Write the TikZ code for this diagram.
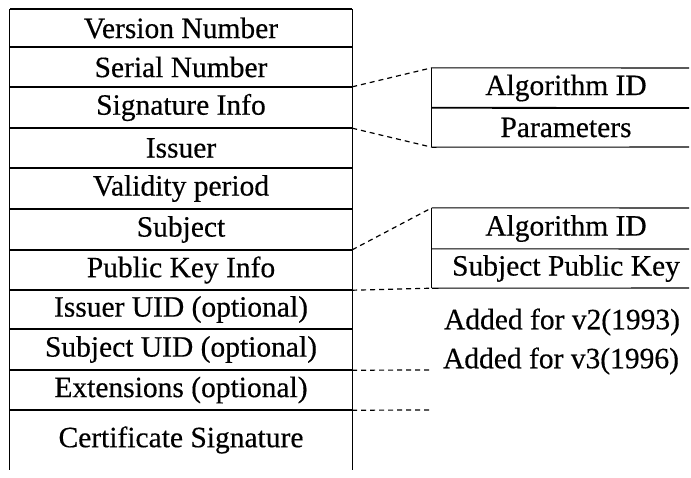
\documentclass[tikz,border=0pt]{standalone}
\usepackage{fontspec}
\setmainfont{Liberation Serif}
\newfontfamily\scanfont{Liberation Serif}[FakeBold=0.4]
\begin{document}
\begin{tikzpicture}[x=1pt,y=-1pt,
  txt/.style={inner sep=0pt,font=\scanfont\fontsize{29.5}{31}\selectfont},
  row/.style={txt,minimum width=342pt},
  rbox/.style={txt,minimum width=268pt},
  note/.style={txt},
  hline/.style={line width=1.8pt},
  vline/.style={line width=1.1pt},
  dline/.style={line width=1.2pt,dash pattern=on 5pt off 4pt}]
\useasboundingbox (0,0) rectangle (691,477);
% left table rows
\node[row,minimum height=38pt] (ver) at (181,28) {Version Number};
\node[row,minimum height=40pt] (ser) at (181,67) {Serial Number};
\node[row,minimum height=41pt] (sig) at (181,107.5) {Signature Info};
\node[row,minimum height=40pt] (iss) at (181,148) {Issuer};
\node[row,minimum height=41pt] (val) at (181,188.5) {Validity period};
\node[row,minimum height=41pt] (sub) at (181,229.5) {Subject};
\node[row,minimum height=40pt] (pki) at (181,270) {Public Key Info};
\node[row,minimum height=39pt] (iuid) at (181,309.5) {Issuer UID (optional)};
\node[row,minimum height=41pt] (suid) at (181,349.5) {Subject UID (optional)};
\node[row,minimum height=40pt] (ext) at (181,390) {Extensions (optional)};
\node[row,minimum height=60pt] (csig) at (181,440) {Certificate Signature};
% right boxes
\node[rbox,minimum height=40pt] (alg1) at (566,88) {Algorithm ID};
\node[rbox,minimum height=39pt] (par) at (566,127.5) {Parameters};
\node[rbox,minimum height=41pt] (alg2) at (566,228.5) {Algorithm ID};
\node[rbox,minimum height=39pt] (spk) at (566,268.5) {Subject Public Key};
% notes
\node[note] (v2) at (562,322) {Added for v2(1993)};
\node[note] (v3) at (561,361) {Added for v3(1996)};
% left table lines
\draw[vline] (ver.north west) -- (csig.south west);
\draw[vline] (ver.north east) -- (csig.south east);
\foreach \n in {ver,ser,sig,iss,val,sub,pki,iuid,suid,ext}
  \draw[hline] (\n.north west) -- (\n.north east);
\draw[hline] (ext.south west) -- (ext.south east);
% right box lines
\coordinate (r1) at (689,68);
\coordinate (r2) at (689,108);
\coordinate (r3) at (689,147);
\coordinate (r4) at (689,208);
\coordinate (r5) at (689,249);
\coordinate (r6) at (689,288);
\draw[vline] (alg1.north west) -- (par.south west);
\draw[vline] (alg1.north west) -- (r1);
\draw[hline] (par.north west) -- (r2);
\draw[vline] (par.south west) -- (r3);
\draw[vline] (alg2.north west) -- (spk.south west);
\draw[vline] (alg2.north west) -- (r4);
\draw[vline] (spk.north west) -- (r5);
\draw[vline] (spk.south west) -- (r6);
% dashed connectors
\draw[dline] (sig.north east) -- (alg1.north west);
\draw[dline] (sig.south east) -- (par.south west);
\draw[dline] (pki.north east) -- (alg2.north west);
\draw[dline] (pki.south east) -- (spk.south west);
\coordinate (d1) at (430,370);
\coordinate (d2) at (430,410);
\draw[dline] (suid.south east) -- (d1);
\draw[dline] (ext.south east) -- (d2);
\end{tikzpicture}
\end{document}
